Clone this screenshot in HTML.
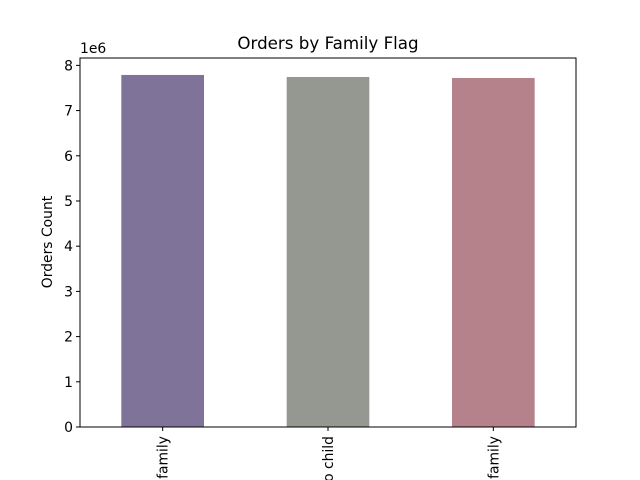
<!DOCTYPE html>
<html><head><meta charset="utf-8"><style>html,body{margin:0;background:#fff;overflow:hidden;width:640px;height:480px}svg{display:block;overflow:hidden}text{font-family:"DejaVu Sans","Liberation Sans",sans-serif;fill:#000}</style></head>
<body>
<svg id="chart" width="640" height="480">
<text x="328" y="49" text-anchor="middle" font-size="16.7">Orders by Family Flag</text>
<text x="80" y="53" font-size="13.9">1e6</text>
<text transform="translate(52,242) rotate(-90)" text-anchor="middle" font-size="13.9">Orders Count</text>
<g id="bars"></g><g id="yticks"></g><g id="xticks"></g>
<rect x="80" y="58" width="496" height="369" fill="none" stroke="#000" stroke-width="1"/>
</svg>
<script>
const categories = ["Large family", "No child", "Small family"];
const values = [7.788, 7.743, 7.721];
const colors = ["#7f7399", "#959890", "#b5828c"];
const yTicks = [0,1,2,3,4,5,6,7,8];
const L=80,R=576,T=58,B=427;
const yMax=8.163;
const ys=v=>B-(v/yMax)*(B-T);
const xs=i=>L+(i+0.5)*(R-L)/3;
const bw=0.5*(R-L)/3;
const NS="http://www.w3.org/2000/svg";
const mk=(t,a,p)=>{const e=document.createElementNS(NS,t);for(const k in a)e.setAttribute(k,a[k]);p.appendChild(e);return e;};
const bars=document.getElementById('bars'),yt=document.getElementById('yticks'),xt=document.getElementById('xticks');
values.forEach((v,i)=>{
 const r=mk('rect',{x:xs(i)-bw/2,y:ys(v),width:bw,height:B-ys(v),fill:colors[i]},bars);
 
 
 const l=mk('line',{x1:xs(i),x2:xs(i),y1:B,y2:B+4,stroke:'#000'},xt);
 
 
 const t=mk('text',{transform:`translate(${xs(i)+5},436) rotate(-90)`,'text-anchor':'end','font-size':13.9},xt);
 t.textContent=categories[i];
 
 
});
yTicks.forEach(v=>{
 const y=ys(v);
 const l=mk('line',{x1:L-4,x2:L,y1:y,y2:y,stroke:'#000'},yt);
 
 
 const t=mk('text',{x:L-7,y:y+5,'text-anchor':'end','font-size':13.9},yt);
 t.textContent=v;
 
 
});
</script>
</body></html>
